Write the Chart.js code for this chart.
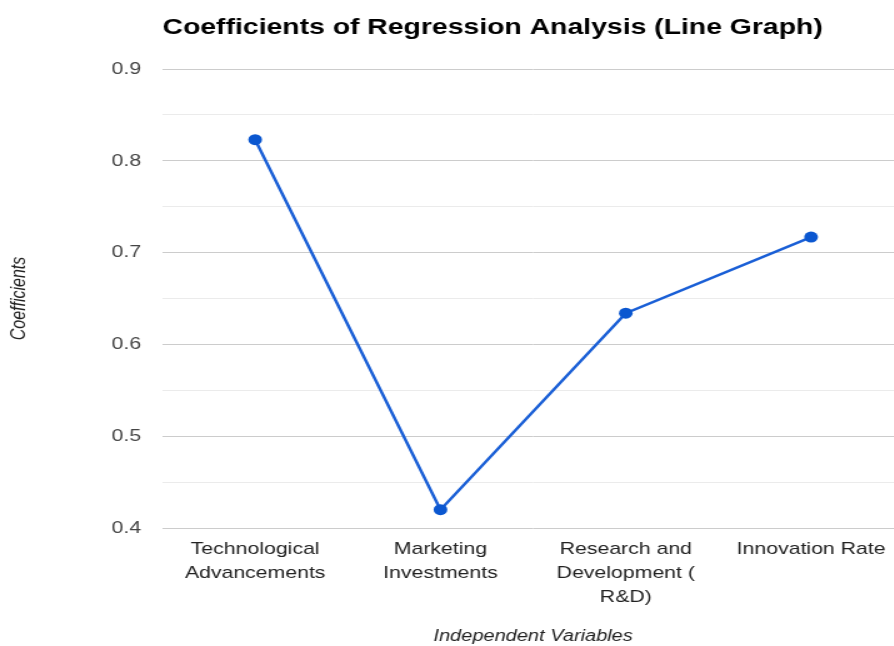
<!DOCTYPE html>
<html>
<head>
<meta charset="utf-8">
<script src="https://cdn.jsdelivr.net/npm/chart.js@4/dist/chart.umd.min.js"></script>
<style>
  html, body { margin: 0; padding: 0; background: #fff; overflow: hidden; }
  /* la imagen original esta estirada a lo ancho */
  #wrap { width: 723px; height: 646px; transform: scaleX(1.25); transform-origin: 0 0; }
</style>
</head>
<body>
<div id="wrap"><canvas id="grafica"></canvas></div>
<script>
// datos
const categorias = [
  ['Technological', 'Advancements'],
  ['Marketing', 'Investments'],
  ['Research and', 'Development (', 'R&D)'],
  ['Innovation Rate']
];
const coeficientes = [0.823, 0.42, 0.634, 0.717];
const yMin = 0.4;
const yMax = 0.9;
const paso = 0.05;

const fuente = 'Liberation Sans, Arial, sans-serif';
const esMayor = (v) => Math.abs(Math.round(v * 10) - v * 10) < 1e-6;

new Chart(document.getElementById('grafica'), {
  type: 'line',
  data: {
    labels: categorias,
    datasets: [{
      label: 'Coefficients',
      data: coeficientes,
      borderColor: '#1a5fd6',
      backgroundColor: '#0b57d0',
      borderWidth: 2.5,
      pointRadius: 5.5,
      pointHoverRadius: 5.5,
      pointBorderWidth: 0,
      tension: 0
    }]
  },
  options: {
    responsive: true,
    maintainAspectRatio: false,
    animation: false,
    layout: { autoPadding: false, padding: 0 },
    plugins: {
      legend: { display: false },
      tooltip: { enabled: false },
      title: {
        display: true,
        text: 'Coefficients of Regression Analysis (Line Graph)',
        align: 'start',
        fullSize: false,
        color: '#000',
        font: { family: fuente, size: 22.7, weight: 'bold' },
        padding: { top: 14, bottom: 27.8 }
      }
    },
    scales: {
      x: {
        offset: true,
        grid: { display: false, drawTicks: false },
        border: { display: false },
        ticks: {
          color: '#222',
          font: { family: fuente, size: 17, lineHeight: 1.41 },
          padding: 9,
          maxRotation: 0,
          autoSkip: false
        },
        title: {
          display: true,
          text: 'Independent Variables',
          color: '#222',
          font: { family: fuente, size: 16, style: 'italic' },
          padding: { top: 0, bottom: 0 }
        },
        afterFit: (scale) => { scale.height = 118; }
      },
      y: {
        min: yMin,
        max: yMax,
        border: { display: false },
        grid: {
          drawTicks: false,
          color: (ctx) => esMayor(ctx.tick.value) ? '#cccccc' : '#ebebeb',
          lineWidth: 1
        },
        ticks: {
          stepSize: paso,
          color: '#444',
          padding: 17,
          font: { family: fuente, size: 17 },
          callback: (v) => esMayor(v) ? v.toFixed(1) : ''
        },
        title: {
          display: true,
          text: 'Coefficients',
          color: '#222',
          font: { family: fuente, size: 16, style: 'italic' },
          padding: { top: 6, bottom: 0 }
        },
        afterFit: (scale) => { scale.width = 130; }
      }
    }
  }
});
</script>
</body>
</html>
